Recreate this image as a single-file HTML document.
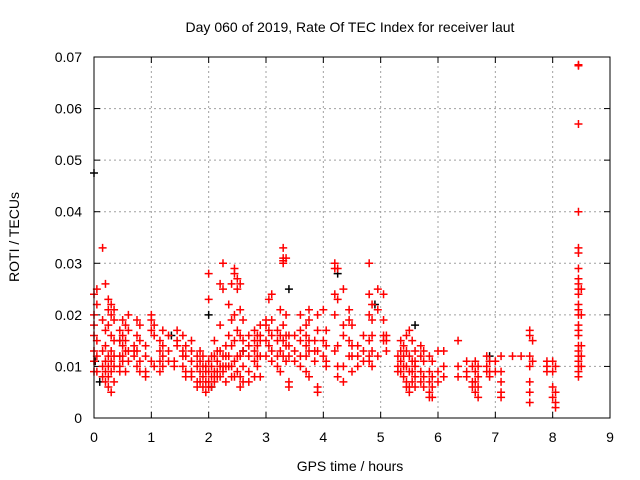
<!DOCTYPE html>
<html><head><meta charset="utf-8"><style>
html,body{margin:0;padding:0;background:#fff;}
svg{display:block;font-family:"Liberation Sans",sans-serif;}
</style></head><body>
<svg id="chart" width="640" height="480" viewBox="0 0 640 480" xmlns="http://www.w3.org/2000/svg">
<rect width="640" height="480" fill="#fff"/>
<text x="350" y="32" font-size="14" text-anchor="middle" fill="#000">Day 060 of 2019, Rate Of TEC Index for receiver laut</text>
<g id="grid"></g>
<g id="ticks"></g>
<g id="marks"></g>
<rect x="94" y="57" width="516" height="361" fill="none" stroke="#000" stroke-width="1"/>
<text x="350" y="471" font-size="14" text-anchor="middle">GPS time / hours</text>
<text transform="translate(19,237) rotate(-90)" font-size="14" text-anchor="middle">ROTI / TECUs</text>
</svg>
<script>
const xTicks = [0,1,2,3,4,5,6,7,8,9];
const yTicks = [0,0.01,0.02,0.03,0.04,0.05,0.06,0.07];
const yTickLabels = ["0","0.01","0.02","0.03","0.04","0.05","0.06","0.07"];
const times = [0.0,0.05,0.15,0.2,0.25,0.3,0.35,0.45,0.5,0.55,0.6,0.7,0.75,0.8,0.9,1.0,1.05,1.15,1.2,1.3,1.4,1.45,1.55,1.6,1.7,1.8,1.85,1.9,1.95,2.0,2.05,2.1,2.15,2.2,2.25,2.3,2.35,2.4,2.45,2.5,2.55,2.6,2.7,2.8,2.85,2.9,3.0,3.05,3.1,3.2,3.25,3.3,3.35,3.4,3.5,3.6,3.7,3.75,3.85,3.9,4.0,4.05,4.2,4.25,4.35,4.45,4.5,4.6,4.7,4.8,4.85,4.95,5.05,5.1,5.3,5.35,5.4,5.45,5.5,5.55,5.6,5.7,5.75,5.85,5.9,6.0,6.1,6.35,6.5,6.6,6.65,6.7,6.85,6.9,7.0,7.1,7.3,7.45,7.6,7.65,7.9,8.0,8.05,8.45,8.5];
const rotiGroups = [
[.024,.02,.018,.016,.013,.011,.009],[.025,.022,.015,.012,.009],[.033,.019,.013,.01,.008],[.026,.017,.014,.011,.009,.007],[.023,.021,.018,.012,.01,.008,.006],[.022,.02,.016,.013,.011,.009,.005],[.021,.019,.015,.012,.01,.007],[.017,.015,.012,.01,.009],[.019,.016,.014,.012,.011],[.018,.015,.013,.009],[.02,.017,.013,.011],[.014,.013,.012],[.019,.016,.013,.01],[.018,.015,.011,.009],[.014,.012,.009,.008],[.02,.019,.017,.011],[.018,.016,.01],[.015,.013,.011,.009],[.017,.014,.012,.01],[.016,.013,.011],[.011,.01],[.017,.015,.014],[.016,.013,.012,.01],[.014,.012,.009,.008],[.015,.013,.011,.009,.008],[.012,.01,.007,.006],[.013,.011,.009,.007],[.012,.01,.008,.006],[.01,.009,.007,.005],[.028,.023,.011,.009,.007,.006],[.012,.01,.008,.006],[.015,.012,.009,.008,.007],[.013,.011,.009,.008],[.026,.018,.013,.01,.008],[.03,.025,.012,.01,.009],[.014,.012,.01,.007],[.022,.016,.012,.01],[.026,.019,.014,.01,.008],[.029,.028,.02,.015,.011,.008],[.027,.025,.017,.012,.009],[.026,.021,.016,.012,.008,.006],[.019,.015,.013,.01,.007],[.016,.014,.012,.009,.007],[.017,.015,.013,.011,.008],[.016,.014,.012,.01],[.018,.016,.015,.012,.008],[.019,.018,.015,.012],[.023,.017,.014],[.024,.019,.016,.013,.011],[.017,.015,.012,.01],[.021,.016,.013,.009],[.033,.031,.0305,.03,.018,.015,.012],[.031,.02,.016,.014,.011],[.016,.014,.012,.007,.006],[.016,.013,.011],[.02,.017,.015,.012,.01],[.018,.016,.014,.012,.009],[.021,.019,.015,.013,.008],[.015,.013,.011],[.02,.017,.013,.006,.005],[.021,.015,.012],[.017,.014,.011,.01],[.03,.029,.024,.02,.013],[.029,.023,.014,.01,.008],[.025,.018,.016,.01,.007],[.021,.019,.015,.012],[.018,.014,.012,.009],[.014,.012,.01],[.016,.013,.011],[.03,.024,.02,.015,.012,.011],[.022,.019,.016,.013,.01],[.025,.021,.012],[.024,.019,.016,.015],[.016,.015,.013],[.012,.01,.009],[.015,.013,.011,.009],[.014,.012,.01,.008],[.016,.013,.01,.007,.006],[.017,.012,.009,.006,.005],[.015,.011,.009,.007],[.013,.011,.01,.008,.006],[.014,.012,.009,.007],[.013,.011,.008,.006],[.012,.009,.007,.005,.004],[.011,.008,.006,.004],[.013,.009,.007],[.013,.01,.008],[.015,.01,.008],[.011,.009,.008],[.01,.007,.006],[.011,.009,.007,.005],[.01,.008,.006,.004],[.012,.01,.009],[.011,.009,.008],[.011,.009],[.012,.009,.007,.005,.004],[.012],[.012],[.017,.016,.012,.01,.007,.005,.003],[.015,.011],[.011,.01,.009],[.011,.009,.006,.004],[.01,.005,.003,.002],
[.0685,.0683,.057,.04,.033,.032,.029,.027,.026,.025,.024,.022,.021,.02,.018,.017,.016,.014,.013,.012,.011,.01,.009,.008],[.025,.02,.014,.012,.01]];
const blackTimes = [0.0,0.02,0.1,0.45,1.35,2.0,2.05,2.6,3.4,4.25,4.9,5.6,6.9];
const blackRotis = [.0475,.011,.007,.015,.016,.02,.006,.013,.025,.028,.022,.018,.012];

const X0=94,X1=610,Y0=418,Y1=57;
const xs = h => X0 + (h/9)*(X1-X0);
const ys = v => Y0 - (v/0.07)*(Y0-Y1);
const NS="http://www.w3.org/2000/svg";
function mk(tag, attrs, parent){const e=document.createElementNS(NS,tag);for(const k in attrs)e.setAttribute(k,attrs[k]);parent.appendChild(e);return e;}
const grid=document.getElementById('grid'), ticks=document.getElementById('ticks'), marks=document.getElementById('marks');
xTicks.forEach((t,i)=>{
  const x=xs(t);
  if(i>0&&i<xTicks.length-1){const g=mk('line',{x1:x,x2:x,y1:Y0,y2:Y1,stroke:'#a0a0a0','stroke-dasharray':'2,3'},grid);
  
  }
  mk('line',{x1:x,x2:x,y1:Y0,y2:Y0-6,stroke:'#000'},ticks);
  mk('line',{x1:x,x2:x,y1:Y1,y2:Y1+6,stroke:'#000'},ticks);
  const l=mk('text',{x:x,y:442,'font-size':14,'text-anchor':'middle'},ticks);
  l.textContent=t;
  
  
});
yTicks.forEach((t,i)=>{
  const y=ys(t);
  if(i>0&&i<yTicks.length-1){const g=mk('line',{x1:X0,x2:X1,y1:y,y2:y,stroke:'#a0a0a0','stroke-dasharray':'2,3'},grid);
  
  }
  mk('line',{x1:X0,x2:X0+6,y1:y,y2:y,stroke:'#000'},ticks);
  mk('line',{x1:X1,x2:X1-6,y1:y,y2:y,stroke:'#000'},ticks);
  const l=mk('text',{x:82,y:y+5,'font-size':14,'text-anchor':'end'},ticks);
  l.textContent=yTickLabels[i];
  
  
});
function plus(h,v,color){
  const x=xs(h),y=ys(v);
  const p=mk('path',{d:`M${x-4},${y}H${x+4}M${x},${y-4}V${y+4}`,stroke:color,'stroke-width':1.5,fill:'none'},marks);
  
  
}
blackTimes.forEach((h,i)=>plus(h,blackRotis[i],'#000'));
times.forEach((h,i)=>rotiGroups[i].forEach(v=>plus(h,v,'#ff0000')));
</script>
</body></html>
